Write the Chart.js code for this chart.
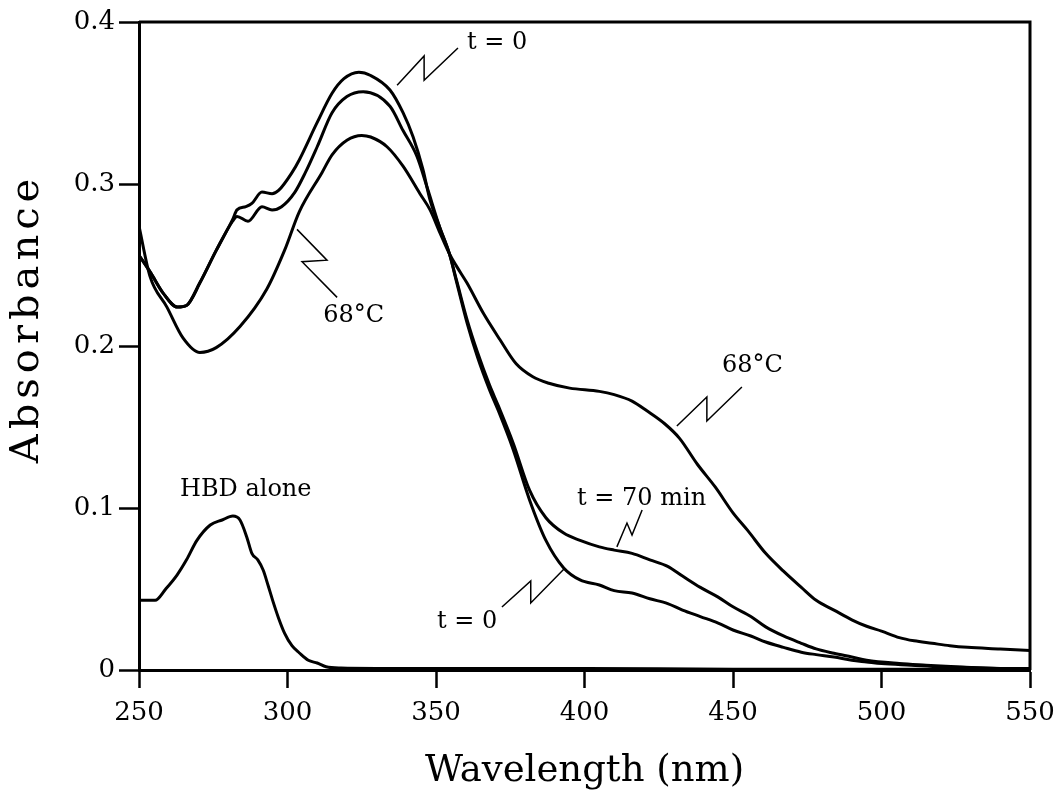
<!DOCTYPE html>
<html>
<head>
<meta charset="utf-8">
<script src="https://cdn.jsdelivr.net/npm/chart.js@4/dist/chart.umd.min.js"></script>
<style>
  html, body { margin: 0; padding: 0; background: #fff; }
  #wrap { width: 1061px; height: 797px; }
</style>
</head>
<body>
<div id="wrap"><canvas id="chart" width="1061" height="797"></canvas></div>
<script>
// spectra (wavelength in nm, absorbance)
const t0Wavelength = [250, 254, 258, 263, 266, 270.5, 276, 281.5, 283, 286, 288, 291.4, 294.8, 297, 301.5, 304, 310, 315, 319, 324, 328, 334.5, 338.9, 342.3, 345.6, 348, 351.3, 354.5, 357, 360.5, 364, 368, 371, 376, 381.5, 387, 393, 398.5, 405, 410, 416, 422, 428, 433, 439, 445, 450, 456, 461, 467, 473, 478, 484, 490, 495, 500, 510, 520, 530, 540, 550];
const t0Absorbance = [0.256, 0.245, 0.233, 0.224, 0.225, 0.239, 0.259, 0.278, 0.284, 0.286, 0.288, 0.295, 0.294, 0.296, 0.307, 0.315, 0.338, 0.356, 0.365, 0.369, 0.367, 0.358, 0.344, 0.329, 0.309, 0.290, 0.273, 0.257, 0.239, 0.214, 0.193, 0.173, 0.160, 0.136, 0.105, 0.080, 0.063, 0.0556, 0.0525, 0.049, 0.0475, 0.044, 0.041, 0.037, 0.033, 0.029, 0.0247, 0.021, 0.0173, 0.014, 0.011, 0.0095, 0.008, 0.006, 0.005, 0.004, 0.003, 0.002, 0.0015, 0.001, 0.001];

const t70Wavelength = [250, 254, 258, 263, 266, 270.5, 276, 281.5, 283, 286.7, 291.4, 294.8, 298, 302.5, 306, 310, 315, 320, 325.5, 334.5, 338.9, 343.6, 347, 351.3, 354.5, 357, 360.5, 364, 368, 371, 376, 381.5, 387, 393, 398.5, 405, 410, 416, 422, 428, 433, 439, 445, 450, 456, 461, 467, 473, 478, 484, 490, 495, 506, 515, 525, 540, 550];
const t70Absorbance = [0.256, 0.245, 0.233, 0.224, 0.225, 0.239, 0.259, 0.277, 0.280, 0.277, 0.286, 0.284, 0.286, 0.295, 0.307, 0.323, 0.344, 0.354, 0.357, 0.348, 0.333, 0.317, 0.298, 0.273, 0.257, 0.240, 0.216, 0.196, 0.176, 0.163, 0.140, 0.111, 0.094, 0.0845, 0.080, 0.076, 0.074, 0.072, 0.068, 0.064, 0.058, 0.051, 0.045, 0.039, 0.033, 0.0266, 0.021, 0.0165, 0.013, 0.0103, 0.008, 0.006, 0.004, 0.003, 0.002, 0.001, 0.001];

const hotWavelength = [250, 253.7, 259.4, 264.8, 270.5, 276, 284, 293, 299, 304, 311.6, 315, 320, 325, 328, 333.5, 338.9, 344.6, 348, 351.3, 354.5, 357, 360.4, 366, 371.5, 377, 382.6, 388, 395, 405, 410, 416, 421, 427, 432, 438, 444, 450, 455, 461, 467, 473, 478, 484, 490, 495, 500, 506, 511, 517, 523, 529, 540, 550];
const hotAbsorbance = [0.274, 0.243, 0.224, 0.205, 0.196, 0.199, 0.212, 0.235, 0.259, 0.283, 0.307, 0.318, 0.327, 0.330, 0.329, 0.323, 0.311, 0.294, 0.284, 0.270, 0.257, 0.249, 0.239, 0.220, 0.204, 0.189, 0.181, 0.177, 0.174, 0.172, 0.170, 0.166, 0.160, 0.152, 0.143, 0.127, 0.113, 0.097, 0.086, 0.072, 0.061, 0.051, 0.043, 0.037, 0.031, 0.027, 0.024, 0.020, 0.018, 0.0165, 0.015, 0.014, 0.013, 0.012];

const hbdWavelength = [250, 255.4, 259, 262.8, 266, 269.5, 274, 278, 281.6, 284, 286.3, 288, 290, 291.8, 293.5, 295, 297, 299, 301.5, 304, 307, 310, 313, 318, 330, 350, 400, 450, 550];
const hbdAbsorbance = [0.043, 0.043, 0.050, 0.0586, 0.068, 0.080, 0.0895, 0.0926, 0.095, 0.0926, 0.082, 0.072, 0.068, 0.0617, 0.052, 0.043, 0.032, 0.0228, 0.015, 0.0105, 0.006, 0.0043, 0.002, 0.0012, 0.001, 0.001, 0.001, 0.0005, 0.0005];

const xTicks = [250, 300, 350, 400, 450, 500, 550];
const yTicks = [0, 0.1, 0.2, 0.3, 0.4];

// curve labels with their zigzag leaders, in data units
const notes = [
  { text: 't = 0', x: 360.4, y: 0.387, leader: [[336.9, 0.361], [346, 0.379], [346, 0.364], [357.4, 0.384]] },
  { text: '68°C', x: 312, y: 0.2185, leader: [[303.2, 0.272], [313.3, 0.253], [304.9, 0.252], [316.7, 0.230]] },
  { text: '68°C', x: 446.3, y: 0.188, leader: [[431.1, 0.1506], [441.2, 0.1685], [441.2, 0.1537], [453, 0.1747]] },
  { text: 't = 70 min', x: 397.5, y: 0.106, leader: [[410.9, 0.076], [414.3, 0.0907], [416, 0.0833], [419.4, 0.0988]] },
  { text: 't = 0', x: 350.3, y: 0.0296, leader: [[372.2, 0.0389], [381.9, 0.055], [381.9, 0.0414], [393.1, 0.0623]] },
  { text: 'HBD alone', x: 263.8, y: 0.111, leader: null }
];

function toPoints(xs, ys) {
  return xs.map((x, i) => ({ x: x, y: ys[i] }));
}

function curve(label, xs, ys) {
  return {
    label: label,
    data: toPoints(xs, ys),
    borderColor: '#000',
    borderWidth: 3,
    pointRadius: 0,
    fill: false,
    cubicInterpolationMode: 'monotone'
  };
}

const serif = '"DejaVu Serif", "Liberation Serif", serif';

// frame, y title and curve labels
const extras = {
  id: 'extras',
  afterDraw(chart) {
    const ctx = chart.ctx;
    const area = chart.chartArea;
    const xs = chart.scales.x;
    const ys = chart.scales.y;
    ctx.save();
    ctx.strokeStyle = '#000';
    ctx.lineWidth = 3;
    ctx.beginPath();
    ctx.moveTo(area.left, area.top);
    ctx.lineTo(area.right, area.top);
    ctx.lineTo(area.right, area.bottom);
    ctx.stroke();

    ctx.lineWidth = 1.5;
    ctx.fillStyle = '#000';
    ctx.font = '24px ' + serif;
    ctx.textBaseline = 'middle';
    ctx.textAlign = 'left';
    notes.forEach(n => {
      if (n.leader) {
        ctx.beginPath();
        n.leader.forEach((p, i) => {
          const px = xs.getPixelForValue(p[0]);
          const py = ys.getPixelForValue(p[1]);
          if (i === 0) ctx.moveTo(px, py); else ctx.lineTo(px, py);
        });
        ctx.stroke();
      }
      ctx.fillText(n.text, xs.getPixelForValue(n.x), ys.getPixelForValue(n.y));
    });

    // y axis title
    ctx.translate(28, ys.getPixelForValue(0.217));
    ctx.rotate(-Math.PI / 2);
    ctx.font = '40px ' + serif;
    ctx.textAlign = 'center';
    if ('letterSpacing' in ctx) ctx.letterSpacing = '5px';
    ctx.fillText('Absorbance', 0, 0);
    ctx.restore();
  }
};

new Chart(document.getElementById('chart'), {
  type: 'line',
  data: {
    datasets: [
      curve('t = 0', t0Wavelength, t0Absorbance),
      curve('t = 70 min', t70Wavelength, t70Absorbance),
      curve('68°C', hotWavelength, hotAbsorbance),
      curve('HBD alone', hbdWavelength, hbdAbsorbance)
    ]
  },
  options: {
    responsive: false,
    animation: false,
    layout: { padding: { left: 0, right: 31, top: 22, bottom: 0 } },
    plugins: { legend: { display: false }, tooltip: { enabled: false } },
    scales: {
      x: {
        type: 'linear',
        min: 250,
        max: 550,
        afterFit(scale) { scale.height = 127; scale.paddingRight = 0; scale.paddingLeft = 0; },
        afterBuildTicks(scale) { scale.ticks = xTicks.map(v => ({ value: v })); },
        ticks: { color: '#000', font: { family: serif, size: 26 }, padding: 10, maxRotation: 0 },
        grid: { drawOnChartArea: false, drawTicks: true, tickLength: 18, tickWidth: 2.5, tickColor: '#000' },
        border: { display: true, color: '#000', width: 3 },
        title: { display: true, text: 'Wavelength (nm)', color: '#000', font: { family: serif, size: 37 }, padding: { top: 0, bottom: 3 } }
      },
      y: {
        min: 0,
        max: 0.4,
        afterFit(scale) { scale.width = 139; scale.paddingTop = 0; scale.paddingBottom = 0; },
        afterBuildTicks(scale) { scale.ticks = yTicks.map(v => ({ value: v })); },
        ticks: {
          color: '#000',
          font: { family: serif, size: 26 },
          padding: 4,
          callback: v => v === 0 ? '0' : v.toFixed(1)
        },
        grid: { drawOnChartArea: false, drawTicks: true, tickLength: 20, tickWidth: 2.5, tickColor: '#000' },
        border: { display: true, color: '#000', width: 3 }
      }
    }
  },
  plugins: [extras]
});
</script>
</body>
</html>
